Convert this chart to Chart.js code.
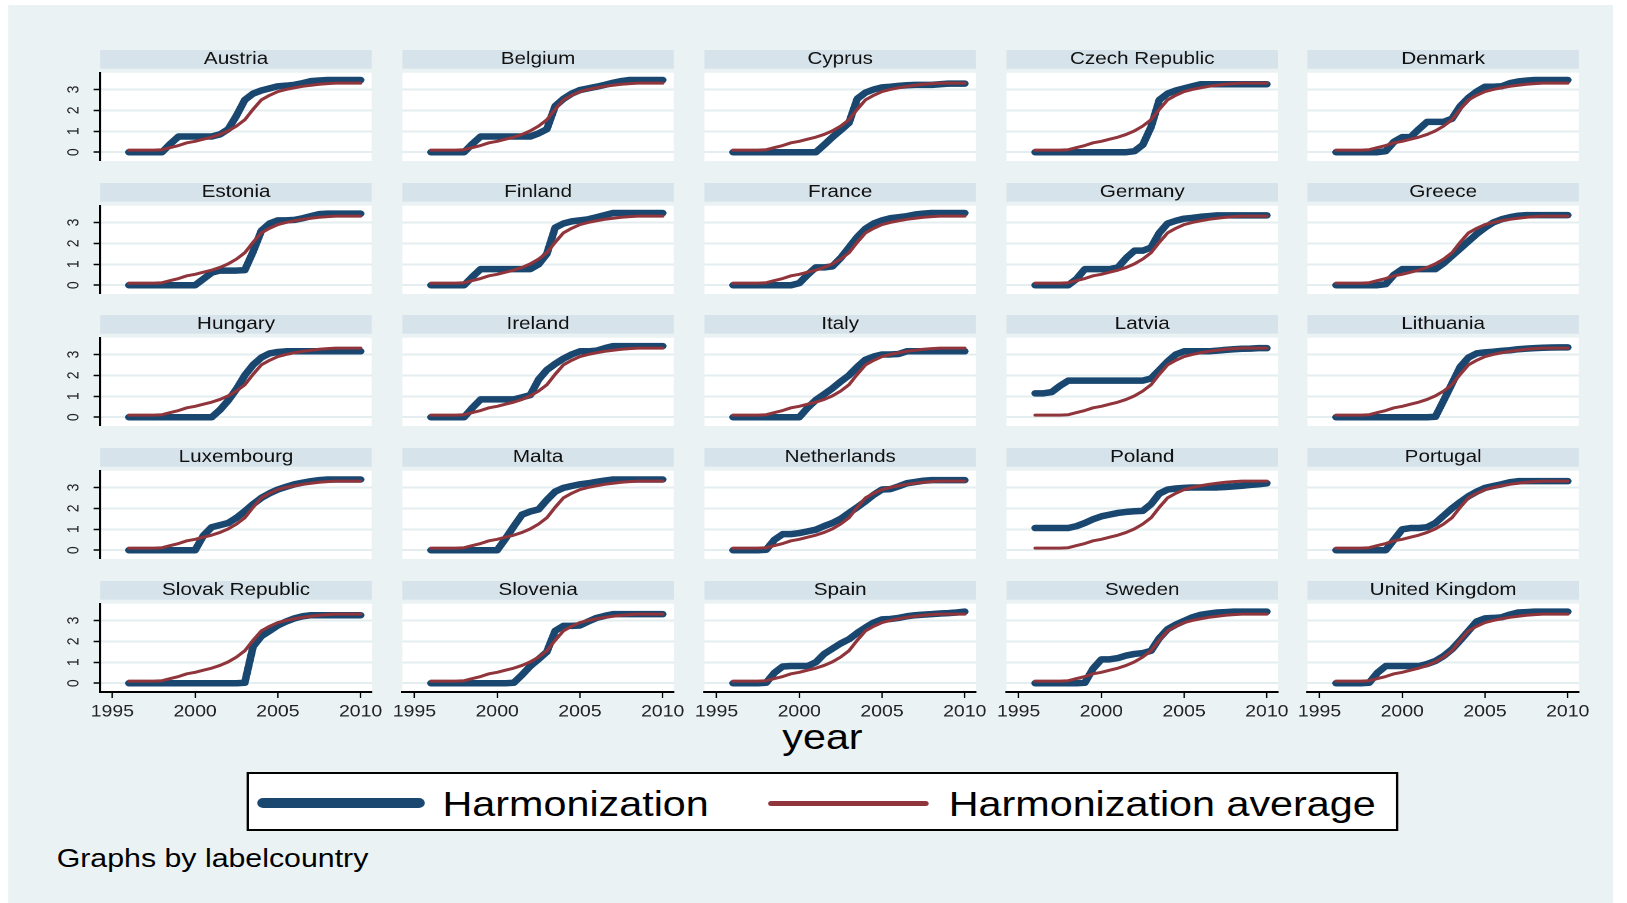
<!DOCTYPE html>
<html>
<head>
<meta charset="utf-8">
<title>Harmonization by country</title>
<script src="https://cdn.jsdelivr.net/npm/chart.js@4.4.0/dist/chart.umd.min.js"></script>
<style>
  html, body { margin: 0; padding: 0; background: #fff; }
  /* the whole graph is laid out narrower, then stretched sideways like the original export */
  #stage { position: absolute; left: 0; top: 0; width: 1379px; height: 903px;
           transform: scaleX(1.18); transform-origin: 0 0;
           font-family: "Liberation Sans", Arial, sans-serif; color: #000; }
  #region { position: absolute; left: 7px; top: 5px; width: 1360px; height: 898px; background: #eaf2f3; }
  canvas { position: absolute; }
  .txt { position: absolute; white-space: nowrap; line-height: 1; }
  #legend { position: absolute; left: 209px; top: 772px; width: 972px; height: 55px;
            border: 2px solid #000; background: #fff; }
  .swatch { position: absolute; }
</style>
</head>
<body>
<div id="stage">
  <div id="region"></div>
  <div class="txt" id="xtitle" style="left:697px; top:719px; font-size:35px; transform:translateX(-50%);">year</div>
  <div id="legend">
    <div class="swatch" style="left:7px; top:24px; width:142px; height:10px; border-radius:5px; background:#1a476f;"></div>
    <div class="txt" style="left:164px; top:12px; font-size:35px;">Harmonization</div>
    <div class="swatch" style="left:440px; top:26.5px; width:136px; height:5px; border-radius:2.5px; background:#90353b;"></div>
    <div class="txt" style="left:593px; top:12px; font-size:35px;">Harmonization average</div>
  </div>
  <div class="txt" style="left:48px; top:846px; font-size:25.7px;">Graphs by labelcountry</div>
</div>
<script>
const K = 1.18;

const halfYears = [1996, 1996.5, 1997, 1997.5, 1998, 1998.5, 1999, 1999.5, 2000, 2000.5,
  2001, 2001.5, 2002, 2002.5, 2003, 2003.5, 2004, 2004.5, 2005, 2005.5,
  2006, 2006.5, 2007, 2007.5, 2008, 2008.5, 2009, 2009.5, 2010];
const yearTicks = [1995, 2000, 2005, 2010];
const harmTicks = [0, 1, 2, 3];

const countries = ['Austria', 'Belgium', 'Cyprus', 'Czech Republic', 'Denmark',
  'Estonia', 'Finland', 'France', 'Germany', 'Greece',
  'Hungary', 'Ireland', 'Italy', 'Latvia', 'Lithuania',
  'Luxembourg', 'Malta', 'Netherlands', 'Poland', 'Portugal',
  'Slovak Republic', 'Slovenia', 'Spain', 'Sweden', 'United Kingdom'];

// Harmonization average (same red curve in every panel)
const avgHarm = [0.1, 0.1, 0.1, 0.1, 0.12, 0.22, 0.32, 0.45, 0.52, 0.62, 0.72, 0.85, 1.02, 1.25, 1.55, 2.05, 2.5, 2.72, 2.9, 3.0, 3.08, 3.15, 3.2, 3.25, 3.28, 3.3, 3.3, 3.3, 3.3];

// Harmonization per country, half-year steps 1996..2010
const austria = [0, 0, 0, 0, 0, 0.4, 0.75, 0.75, 0.75, 0.75, 0.75, 0.85, 1.1, 1.75, 2.5, 2.8, 2.95, 3.05, 3.15, 3.18, 3.22, 3.3, 3.4, 3.43, 3.45, 3.45, 3.45, 3.45, 3.45];
const belgium = [0, 0, 0, 0, 0, 0.4, 0.75, 0.75, 0.75, 0.75, 0.75, 0.75, 0.75, 0.9, 1.1, 2.2, 2.55, 2.8, 2.97, 3.05, 3.13, 3.22, 3.32, 3.4, 3.45, 3.45, 3.45, 3.45, 3.45];
const cyprus = [0, 0, 0, 0, 0, 0, 0, 0, 0, 0, 0, 0.35, 0.72, 1.05, 1.4, 2.55, 2.85, 3.0, 3.1, 3.13, 3.17, 3.2, 3.22, 3.22, 3.22, 3.25, 3.28, 3.28, 3.28];
const czech = [0, 0, 0, 0, 0, 0, 0, 0, 0, 0, 0, 0, 0.05, 0.35, 1.2, 2.5, 2.8, 2.95, 3.05, 3.15, 3.25, 3.25, 3.25, 3.25, 3.25, 3.25, 3.25, 3.25, 3.25];
const denmark = [0, 0, 0, 0, 0, 0, 0.05, 0.5, 0.72, 0.72, 1.1, 1.45, 1.45, 1.45, 1.6, 2.2, 2.6, 2.9, 3.13, 3.13, 3.15, 3.3, 3.38, 3.42, 3.45, 3.45, 3.45, 3.45, 3.45];
const estonia = [0, 0, 0, 0, 0, 0, 0, 0, 0, 0.3, 0.6, 0.7, 0.7, 0.7, 0.72, 1.6, 2.6, 2.95, 3.1, 3.1, 3.12, 3.2, 3.3, 3.4, 3.42, 3.42, 3.42, 3.42, 3.42];
const finland = [0, 0, 0, 0, 0, 0.4, 0.77, 0.77, 0.77, 0.77, 0.77, 0.77, 0.77, 1.0, 1.5, 2.75, 2.95, 3.05, 3.1, 3.15, 3.25, 3.35, 3.45, 3.45, 3.45, 3.45, 3.45, 3.45, 3.45];
const france = [0, 0, 0, 0, 0, 0, 0, 0, 0.1, 0.5, 0.85, 0.85, 0.9, 1.3, 1.8, 2.3, 2.7, 2.95, 3.1, 3.2, 3.25, 3.3, 3.38, 3.42, 3.45, 3.45, 3.45, 3.45, 3.45];
const germany = [0, 0, 0, 0, 0, 0.3, 0.77, 0.77, 0.77, 0.77, 0.85, 1.3, 1.65, 1.65, 1.8, 2.5, 2.95, 3.08, 3.18, 3.22, 3.27, 3.3, 3.34, 3.34, 3.34, 3.34, 3.34, 3.34, 3.34];
const greece = [0, 0, 0, 0, 0, 0, 0.05, 0.5, 0.77, 0.77, 0.77, 0.77, 0.77, 1.05, 1.4, 1.75, 2.1, 2.45, 2.75, 3.0, 3.15, 3.25, 3.32, 3.35, 3.35, 3.35, 3.35, 3.35, 3.35];
const hungary = [0, 0, 0, 0, 0, 0, 0, 0, 0, 0, 0, 0.35, 0.8, 1.35, 2.0, 2.5, 2.85, 3.05, 3.12, 3.15, 3.15, 3.15, 3.15, 3.15, 3.15, 3.15, 3.15, 3.15, 3.15];
const ireland = [0, 0, 0, 0, 0, 0.45, 0.85, 0.85, 0.85, 0.85, 0.85, 0.95, 1.06, 1.8, 2.26, 2.55, 2.8, 3.0, 3.15, 3.15, 3.18, 3.3, 3.4, 3.4, 3.4, 3.4, 3.4, 3.4, 3.4];
const italy = [0, 0, 0, 0, 0, 0, 0, 0, 0, 0.45, 0.82, 1.1, 1.38, 1.7, 2.0, 2.4, 2.75, 2.9, 3.0, 3.0, 3.02, 3.15, 3.15, 3.15, 3.15, 3.15, 3.15, 3.15, 3.15];
const latvia = [1.14, 1.14, 1.2, 1.5, 1.75, 1.75, 1.75, 1.75, 1.75, 1.75, 1.75, 1.75, 1.75, 1.75, 1.85, 2.25, 2.66, 3.0, 3.15, 3.15, 3.15, 3.15, 3.18, 3.22, 3.25, 3.27, 3.28, 3.3, 3.3];
const lithuania = [0, 0, 0, 0, 0, 0, 0, 0, 0, 0, 0, 0, 0.02, 0.8, 1.6, 2.4, 2.85, 3.05, 3.1, 3.13, 3.17, 3.2, 3.25, 3.28, 3.3, 3.32, 3.33, 3.34, 3.34];
const luxembourg = [0, 0, 0, 0, 0, 0, 0, 0, 0, 0.7, 1.1, 1.2, 1.3, 1.55, 1.86, 2.2, 2.5, 2.72, 2.9, 3.03, 3.15, 3.23, 3.3, 3.35, 3.38, 3.38, 3.38, 3.38, 3.38];
const malta = [0, 0, 0, 0, 0, 0, 0, 0, 0, 0.55, 1.14, 1.7, 1.85, 1.95, 2.4, 2.8, 2.98, 3.07, 3.15, 3.2, 3.27, 3.33, 3.38, 3.38, 3.38, 3.38, 3.38, 3.38, 3.38];
const netherlands = [0, 0, 0, 0, 0.02, 0.5, 0.77, 0.77, 0.82, 0.9, 0.98, 1.15, 1.3, 1.5, 1.78, 2.05, 2.34, 2.65, 2.9, 2.92, 3.05, 3.2, 3.26, 3.32, 3.35, 3.35, 3.35, 3.35, 3.35];
const poland = [1.06, 1.06, 1.06, 1.06, 1.06, 1.15, 1.3, 1.48, 1.62, 1.7, 1.78, 1.83, 1.86, 1.88, 2.2, 2.7, 2.9, 2.95, 2.98, 3.0, 3.0, 3.0, 3.0, 3.02, 3.05, 3.08, 3.12, 3.15, 3.2];
const portugal = [0, 0, 0, 0, 0, 0, 0, 0.5, 1.0, 1.06, 1.06, 1.1, 1.3, 1.65, 2.0, 2.3, 2.58, 2.8, 2.98, 3.07, 3.15, 3.25, 3.3, 3.3, 3.3, 3.3, 3.3, 3.3, 3.3];
const slovakia = [0, 0, 0, 0, 0, 0, 0, 0, 0, 0, 0, 0, 0, 0, 0.02, 1.75, 2.25, 2.5, 2.76, 2.95, 3.1, 3.2, 3.25, 3.25, 3.25, 3.25, 3.25, 3.25, 3.25];
const slovenia = [0, 0, 0, 0, 0, 0, 0, 0, 0, 0, 0.02, 0.4, 0.82, 1.15, 1.5, 2.5, 2.74, 2.74, 2.76, 2.95, 3.12, 3.22, 3.3, 3.3, 3.3, 3.3, 3.3, 3.3, 3.3];
const spain = [0, 0, 0, 0, 0.02, 0.5, 0.8, 0.82, 0.82, 0.82, 1.0, 1.4, 1.65, 1.9, 2.1, 2.4, 2.66, 2.9, 3.05, 3.07, 3.12, 3.2, 3.25, 3.28, 3.3, 3.33, 3.35, 3.38, 3.42];
const sweden = [0, 0, 0, 0, 0, 0, 0.02, 0.7, 1.14, 1.14, 1.2, 1.32, 1.4, 1.44, 1.55, 2.15, 2.58, 2.8, 2.98, 3.15, 3.27, 3.33, 3.38, 3.4, 3.42, 3.42, 3.42, 3.42, 3.42];
const unitedKingdom = [0, 0, 0, 0, 0.02, 0.5, 0.82, 0.82, 0.82, 0.82, 0.82, 0.92, 1.06, 1.3, 1.62, 2.05, 2.5, 2.95, 3.1, 3.12, 3.15, 3.28, 3.38, 3.4, 3.42, 3.42, 3.42, 3.42, 3.42];

const harmSeries = [austria, belgium, cyprus, czech, denmark, estonia, finland, france, germany, greece,
  hungary, ireland, italy, latvia, lithuania, luxembourg, malta, netherlands, poland, portugal,
  slovakia, slovenia, spain, sweden, unitedKingdom];

const COLORS = {
  navy: '#1a476f',
  maroon: '#90353b',
  strip: '#d7e3ea',
  grid: '#e4edf0',
  ink: '#000000',
};

// panel layout, in picture pixels (x is divided by K for the stretched stage)
const COL_LEFT = [100, 402, 704, 1006, 1308];
const ROW_TOP = [49.8, 182.6, 315.4, 448.2, 581];
const PLOT_W = 271;
const HEAD_H = 22.7;   // strip + gap above plot
const PLOT_H = 88.4;
const Y_AXIS_W = 40;   // stage px
const X_AXIS_H = 32;
const X_SIDE = 14;     // room for the end tick labels on the bottom row

Chart.defaults.font.family = '"Liberation Sans", Arial, sans-serif';
Chart.defaults.color = COLORS.ink;

const panelBackground = {
  id: 'panelBackground',
  beforeDraw(chart) {
    const ctx = chart.ctx;
    const area = chart.chartArea;
    const tb = chart.titleBlock;
    ctx.save();
    ctx.fillStyle = COLORS.strip;
    ctx.fillRect(area.left, tb.top, area.right - area.left, tb.height - 4);
    ctx.fillStyle = '#ffffff';
    ctx.fillRect(area.left, area.top, area.right - area.left, area.bottom - area.top);
    ctx.restore();
  }
};

function toPoints(values) {
  return values.map((v, i) => ({ x: halfYears[i], y: v }));
}

const stage = document.getElementById('stage');

countries.forEach((name, i) => {
  const row = Math.floor(i / 5);
  const col = i % 5;
  const hasY = col === 0;
  const hasX = row === 4;
  const side = hasX ? X_SIDE : 0;

  const canvas = document.createElement('canvas');
  const w = Math.round(PLOT_W / K + (hasY ? Y_AXIS_W : 0) + 2 * side);
  const h = Math.round(HEAD_H + PLOT_H + (hasX ? X_AXIS_H : 0));
  canvas.width = w;
  canvas.height = h;
  canvas.style.width = w + 'px';
  canvas.style.height = h + 'px';
  canvas.style.left = (COL_LEFT[col] / K - (hasY ? Y_AXIS_W : 0) - side) + 'px';
  canvas.style.top = ROW_TOP[row] + 'px';
  stage.appendChild(canvas);

  new Chart(canvas, {
    type: 'line',
    data: {
      datasets: [
        {
          label: 'Harmonization',
          data: toPoints(harmSeries[i]),
          borderColor: COLORS.navy,
          borderWidth: 6.5,
          order: 2,
        },
        {
          label: 'Harmonization average',
          data: toPoints(avgHarm),
          borderColor: COLORS.maroon,
          borderWidth: 3,
          order: 1,
        },
      ]
    },
    options: {
      responsive: false,
      animation: false,
      devicePixelRatio: 2,
      layout: { padding: { left: side, right: side, top: 0, bottom: 0 } },
      elements: {
        point: { radius: 0, hitRadius: 0 },
        line: { tension: 0, fill: false, borderCapStyle: 'round', borderJoinStyle: 'round' },
      },
      plugins: {
        legend: { display: false },
        tooltip: { enabled: false },
        title: {
          display: true,
          text: name,
          fullSize: false,
          color: '#111',
          font: { size: 17.5, weight: 'normal', lineHeight: 18.7 / 17.5 },
          padding: { top: 0, bottom: 4 },
        },
      },
      scales: {
        x: {
          type: 'linear',
          min: 1994.27,
          max: 2010.67,
          display: hasX,
          afterBuildTicks: s => { s.ticks = yearTicks.map(v => ({ value: v })); },
          afterFit: s => {
            s.height = hasX ? X_AXIS_H : 0;
            s.paddingLeft = 0;
            s.paddingRight = 0;
          },
          grid: {
            drawOnChartArea: false,
            drawTicks: true,
            tickLength: 6,
            tickColor: COLORS.ink,
            tickWidth: 1.2,
          },
          border: { display: true, color: COLORS.ink, width: 2 },
          ticks: {
            autoSkip: false,
            maxRotation: 0,
            padding: 4,
            color: '#222',
            font: { size: 16.5 },
            callback: v => String(v),
          },
        },
        y: {
          min: -0.42,
          max: 3.8,
          afterBuildTicks: s => { s.ticks = harmTicks.map(v => ({ value: v })); },
          afterFit: s => {
            s.width = hasY ? Y_AXIS_W : 0;
            s.paddingTop = 0;
            s.paddingBottom = 0;
          },
          grid: {
            color: COLORS.grid,
            lineWidth: 2,
            drawTicks: hasY,
            tickLength: 5.7,
            tickColor: COLORS.ink,
            tickWidth: 1.5,
          },
          border: { display: hasY, color: COLORS.ink, width: 1.6 },
          ticks: {
            display: hasY,
            minRotation: 90,
            maxRotation: 90,
            crossAlign: 'center',
            padding: 13,
            color: '#222',
            font: { size: 14 },
            callback: v => String(v),
          },
        },
      },
    },
    plugins: [panelBackground],
  });
});
</script>
</body>
</html>
